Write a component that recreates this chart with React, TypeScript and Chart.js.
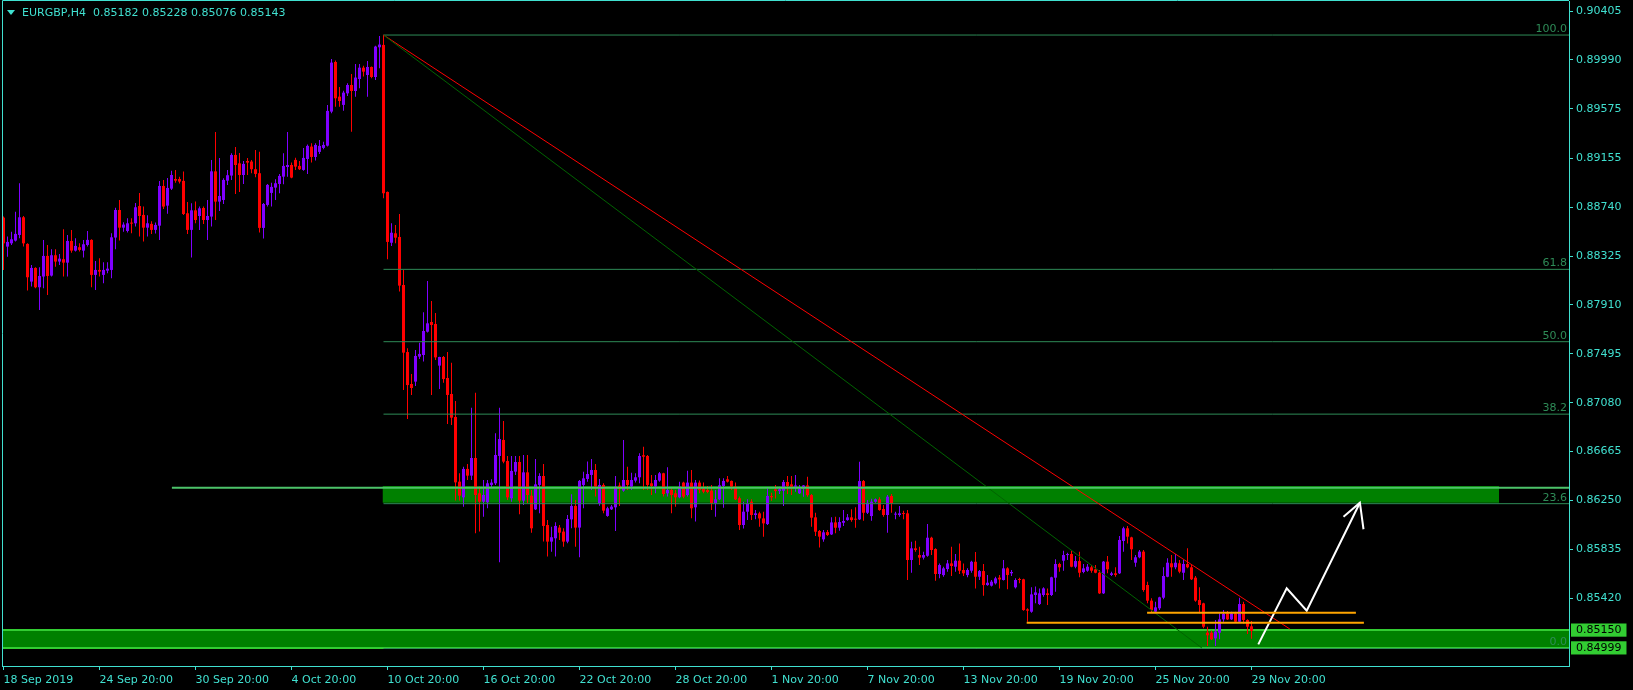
import React, { useEffect, useRef } from 'react';
import Chart from 'chart.js/auto';

// ---- Data (prices in points, 1 point = 0.00001) ----
const SYMBOL = 'EURGBP,H4';

const OPEN = [
88651,88405,88433,88456,88504,88654,88428,88108,88224,88060,
88151,88326,88159,88332,88278,88298,88269,88453,88371,88400,
88371,88419,88462,88165,88207,88165,88201,88207,88482,88716,
88566,88538,88609,88603,88750,88674,88566,88598,88547,88583,
88920,88753,88897,88979,88979,88963,88688,88547,88713,88665,
88733,88631,88660,89044,88787,88801,88965,89008,89183,89112,
89013,89132,89127,89062,89028,88564,88759,88861,88906,88937,
88999,89081,89098,89141,89090,89056,89149,89254,89166,89209,
89243,89262,89551,89972,89678,89608,89706,89777,89726,89828,
89924,89862,89930,89845,90097,90117,88869,88438,88518,88487,
88079,87510,87239,87259,87471,87485,87683,87765,87748,87395,
87468,87290,87154,86959,86410,86277,86518,86461,86611,86311,
86240,86235,86382,86396,86628,86764,86585,86269,86495,86577,
86249,86489,86291,86175,86382,86458,86042,85901,85929,86020,
85986,85901,86090,86204,86020,86382,86433,86467,86509,86226,
86382,86119,86175,86192,86376,86334,86424,86368,86419,86447,
86634,86628,86396,86368,86419,86481,86311,86339,86311,86277,
86402,86297,86402,86192,86402,86353,86339,86334,86226,86260,
86373,86430,86416,86368,86269,86042,86155,86240,86127,86141,
86098,86050,86288,86345,86330,86333,86407,86387,86367,86311,
86353,86378,86296,86107,85991,85920,85982,85962,86064,86019,
86061,86084,86107,86093,86090,86415,86146,86118,86240,86260,
86178,86127,86288,86130,86127,86141,86141,85745,85844,85787,
85765,85781,85934,85838,85626,85617,85668,85716,85688,85739,
85660,85617,85654,85730,85603,85651,85532,85527,85547,85595,
85575,85674,85632,85513,85581,85581,85326,85306,85448,85371,
85448,85462,85448,85595,85711,85739,85787,85796,85688,85736,
85643,85654,85683,85666,85637,85462,85731,85618,85632,85632,
85906,86014,85937,85722,85768,85816,85533,85400,85306,85335,
85425,85603,85717,85683,85717,85637,85711,85683,85595,85405,
85377,85128,85128,85080,85128,85241,85292,85241,85292,85221,
85371,85236,85182
];

const HIGH = [
88660,88490,88532,88702,88943,88665,88433,88250,88230,88230,
88462,88419,88383,88383,88343,88552,88504,88547,88476,88433,
88462,88538,88467,88284,88306,88272,88272,88518,88736,88801,
88612,88646,88646,88776,88861,88745,88671,88620,88609,88963,
88971,88988,89050,89056,88999,89042,88784,88773,88787,88745,
88745,88801,89141,89378,89158,88985,89056,89197,89251,89200,
89132,89158,89141,89226,89211,88776,88937,88948,88977,89022,
89197,89378,89118,89160,89132,89243,89271,89282,89282,89310,
89296,89608,89998,89984,89760,89729,89791,89871,89955,89955,
89941,89981,89933,90111,90193,90201,88872,88603,88588,88682,
88206,87542,87324,87528,87590,87847,88113,87943,87842,87471,
87477,87510,87420,87095,86481,86537,86560,87038,87165,86368,
86424,86424,86430,86820,87038,86925,86628,86628,86628,86628,
86636,86636,86339,86602,86481,86560,86085,86028,86065,86042,
86014,86127,86303,86254,86424,86495,86580,86602,86560,86433,
86396,86198,86212,86458,86402,86764,86537,86486,86481,86651,
86707,86636,86467,86467,86492,86486,86532,86353,86339,86410,
86410,86503,86509,86424,86419,86402,86373,86382,86339,86438,
86438,86458,86419,86402,86283,86240,86260,86260,86169,86155,
86155,86353,86316,86381,86367,86424,86458,86458,86466,86381,
86381,86452,86305,86146,85999,85999,85999,86107,86112,86107,
86169,86135,86175,86192,86579,86424,86254,86265,86268,86277,
86212,86296,86305,86155,86203,86163,86169,85900,85909,85858,
85815,86050,85943,85844,85716,85688,85745,85858,85796,85886,
85716,85674,85739,85813,85660,85711,85617,85575,85603,85617,
85745,85683,85660,85589,85595,85586,85335,85513,85519,85504,
85513,85504,85603,85751,85722,85824,85807,85824,85779,85816,
85711,85711,85702,85702,85660,85736,85779,85646,85683,85949,
86028,86034,85943,85787,85830,85830,85561,85420,85391,85434,
85683,85759,85787,85796,85745,85745,85844,85702,85609,85513,
85383,85179,85145,85236,85292,85320,85312,85306,85306,85425,
85391,85241,85228
];

const LOW = [
88207,88320,88419,88448,88476,88405,88032,88066,88052,87868,
88052,87995,88151,88235,88250,88151,88151,88354,88363,88363,
88312,88405,88060,88037,88151,88094,88179,88136,88383,88456,
88532,88524,88518,88575,88490,88448,88490,88513,88516,88462,
88725,88685,88886,88948,88940,88674,88513,88312,88603,88547,
88598,88462,88575,88631,88708,88767,88929,88971,88852,88869,
88937,89013,89028,88994,88524,88473,88745,88745,88801,88858,
88934,88999,88985,89056,89056,89050,89022,89118,89135,89192,
89231,89254,89537,89593,89593,89559,89684,89381,89678,89749,
89848,89678,89834,89820,89919,88815,88298,88410,88433,88023,
87188,86942,87146,87222,87451,87429,87677,87146,87443,87197,
87250,86899,86891,86249,86249,86198,86424,86424,85972,85986,
86113,86184,86353,86382,85725,86566,86254,86240,86467,86133,
86212,86226,85977,86170,86141,85901,85774,85816,85774,85915,
85858,85887,86014,85858,85768,86184,86410,86339,86283,86206,
86141,86113,86170,85991,86204,86325,86339,86339,86402,86396,
86339,86339,86297,86311,86410,86283,86283,86141,86198,86269,
86269,86283,86099,86071,86311,86311,86311,86170,86113,86254,
86189,86402,86339,86254,86000,86013,86084,86084,86090,86028,
85943,86042,86248,86268,86305,86203,86305,86296,86325,86305,
86282,86282,86028,85948,85852,85900,85948,85957,85971,85994,
86033,86079,86070,86019,86084,86079,86135,86079,86231,86163,
86112,85977,86146,86090,86112,86090,85575,85637,85815,85702,
85750,85773,85787,85569,85589,85603,85646,85609,85646,85626,
85609,85598,85637,85504,85575,85442,85527,85521,85538,85504,
85570,85496,85609,85504,85547,85315,85221,85298,85377,85363,
85434,85363,85440,85476,85646,85654,85745,85683,85674,85598,
85632,85646,85637,85632,85456,85456,85632,85609,85603,85626,
85816,85886,85745,85688,85759,85476,85377,85301,85300,85320,
85411,85598,85603,85666,85632,85575,85674,85575,85391,85292,
85165,85015,85066,85015,85072,85221,85236,85236,85213,85213,
85207,85117,85076
];

const CLOSE = [
88433,88445,88467,88513,88654,88433,88145,88224,88060,88156,
88326,88156,88332,88278,88303,88269,88453,88371,88411,88377,
88425,88462,88165,88207,88193,88207,88218,88484,88716,88566,
88592,88603,88600,88739,88665,88566,88603,88547,88589,88920,
88745,88903,89013,88965,88957,88682,88547,88713,88631,88730,
88631,88665,89044,88787,88835,88971,89011,89183,89098,89013,
89107,89118,89062,89022,88564,88767,88929,88912,88943,89005,
89090,89098,88991,89084,89062,89158,89260,89166,89268,89260,
89268,89557,89967,89664,89641,89712,89777,89726,89840,89924,
89890,89930,89845,90103,90120,88858,88445,88523,88481,88074,
87505,87230,87205,87477,87494,87689,87754,87740,87465,87468,
87281,87146,86953,86404,86291,86518,86461,86611,86297,86240,
86297,86396,86402,86636,86772,86580,86277,86501,86577,86249,
86489,86297,86014,86387,86458,86034,85901,85938,86034,85977,
85901,86093,86204,86020,86416,86438,86475,86509,86368,86382,
86164,86184,86198,86368,86353,86424,86382,86424,86447,86628,
86622,86382,86373,86424,86481,86305,86339,86297,86277,86368,
86283,86402,86184,86402,86339,86325,86322,86226,86260,86379,
86416,86410,86368,86260,86042,86155,86226,86127,86141,86098,
86056,86288,86277,86330,86345,86407,86373,86367,86378,86353,
86378,86296,86104,85985,85943,85980,85957,86064,86019,86067,
86076,86107,86084,86087,86415,86146,86231,86240,86260,86169,
86127,86282,86226,86135,86141,86135,85745,85844,85830,85765,
85787,85934,85830,85626,85702,85674,85716,85694,85739,85654,
85632,85660,85730,85603,85651,85532,85552,85561,85589,85580,
85674,85618,85643,85575,85575,85320,85315,85453,85470,85462,
85504,85448,85598,85711,85683,85787,85796,85688,85736,85637,
85674,85688,85654,85637,85462,85731,85666,85632,85618,85915,
86014,85943,85836,85768,85816,85490,85400,85320,85343,85428,
85609,85722,85683,85722,85646,85711,85683,85581,85400,85363,
85179,85106,85072,85137,85241,85287,85241,85292,85221,85371,
85236,85179,85143
];

const X_TICK_BARS = [0, 24, 48, 72, 96, 120, 144, 168, 192, 216, 240, 264, 288, 312];
const X_TICK_LABELS = [
  '18 Sep 2019', '24 Sep 20:00', '30 Sep 20:00', '4 Oct 20:00', '10 Oct 20:00',
  '16 Oct 20:00', '22 Oct 20:00', '28 Oct 20:00', '1 Nov 20:00', '7 Nov 20:00',
  '13 Nov 20:00', '19 Nov 20:00', '25 Nov 20:00', '29 Nov 20:00'
];
const Y_TICKS = [0.8542, 0.85835, 0.8625, 0.86665, 0.8708, 0.87495, 0.8791, 0.88325, 0.8874, 0.89155, 0.89575, 0.8999, 0.90405];
const Y_MARKS = [0.84999, 0.8515];

// Fibonacci retracement levels
const FIB_LABELS = ['100.0', '61.8', '50.0', '38.2', '23.6', '0.0'];
const FIB_VALUES = [0.90201, 0.88212, 0.87598, 0.86983, 0.86223, 0.84994];
const FIB_START_BAR = 95;

// drawn objects (bar index, price)
const RED_TREND = [[95, 0.90201], [321.6, 0.85159]];
const GREEN_TREND = [[95, 0.90201], [299.6, 0.84998]];
const ORANGE_UPPER = [[285.9, 0.85298], [338.1, 0.85298]];
const ORANGE_LOWER = [[255.8, 0.85213], [340.1, 0.85213]];
const H_LINE = [[42.1, 0.86359]];
const UPPER_ZONE = { from: 94.75, to: 373.9, top: 0.86373, bottom: 0.86231 };
const LOWER_ZONE = { top: 0.8515, bottom: 0.84999 };
const ARROW_PATH = [[313.7, 0.85029], [320.8, 0.85505], [325.8, 0.85315], [339.1, 0.86231]];
const ARROW_HEAD = [[335.0, 0.86113], [339.1, 0.86231], [340.0, 0.86006]];

// ---- styles ----
const AXIS = '#40E0D0';
const BULL = '#8000FF';
const BEAR = '#FF0000';
const FIB_COLOR = '#2E8B57';
const ZONE_FILL = '#008000';
const ZONE_EDGE = '#32CD32';
const FONT = { family: 'DejaVu Sans', size: 11 };

const X_MIN = -0.375;
const X_MAX = 391.375;
const Y_MIN = 0.848452;
const Y_MAX = 0.904899;

const p = (v: number) => v / 100000;
const pts = (arr: number[][]) => arr.map(([x, y]) => ({ x, y }));
const isMark = (v: number) => Y_MARKS.some((m) => Math.abs(m - v) < 1e-7);

function lineDs(data: any[], color: string, width: number, order: number, extra: any = {}) {
  return {
    type: 'line',
    data,
    borderColor: color,
    borderWidth: width,
    pointRadius: 0,
    pointHoverRadius: 0,
    tension: 0,
    fill: false,
    order,
    ...extra,
  };
}

const overlayPlugin = {
  id: 'overlay',
  afterDraw(chart: any) {
    const { ctx, chartArea, scales } = chart;
    const ys = scales.y;
    ctx.save();
    // frame (left / top)
    ctx.strokeStyle = AXIS;
    ctx.lineWidth = 1;
    ctx.beginPath();
    ctx.moveTo(chartArea.left + 0.5, chartArea.bottom);
    ctx.lineTo(chartArea.left + 0.5, 0.5);
    ctx.lineTo(chartArea.right, 0.5);
    ctx.stroke();

    // fib labels
    ctx.font = '11px "DejaVu Sans"';
    ctx.textAlign = 'right';
    ctx.textBaseline = 'alphabetic';
    FIB_VALUES.forEach((v, i) => {
      const y = ys.getPixelForValue(v);
      ctx.fillStyle = FIB_COLOR;
      ctx.fillText(FIB_LABELS[i], chartArea.right - 2, y - 3);
    });

    // header
    const last = CLOSE.length - 1;
    const header = `${SYMBOL}  ${(p(OPEN[last])).toFixed(5)} ${(p(HIGH[last])).toFixed(5)} ${(p(LOW[last])).toFixed(5)} ${(p(CLOSE[last])).toFixed(5)}`;
    ctx.fillStyle = AXIS;
    ctx.beginPath();
    ctx.moveTo(7, 10);
    ctx.lineTo(15, 10);
    ctx.lineTo(11, 15);
    ctx.closePath();
    ctx.fill();
    ctx.font = '11px "DejaVu Sans"';
    ctx.textAlign = 'left';
    ctx.textBaseline = 'middle';
    ctx.fillText(header, 22, 13);
    ctx.restore();
  },
};

export default function App() {
  const ref = useRef<HTMLCanvasElement>(null);

  useEffect(() => {
    document.body.style.margin = '0';
    document.body.style.background = '#000';
    const n = CLOSE.length;
    const idx = Array.from({ length: n }, (_, i) => i);
    const colors = idx.map((i) => (CLOSE[i] >= OPEN[i] ? BULL : BEAR));
    const wicks = idx.map((i) => ({ x: i, y: [p(LOW[i]), p(HIGH[i])] }));
    const bodies = idx.map((i) => ({ x: i, y: [p(OPEN[i]), p(CLOSE[i])] }));

    const datasets: any[] = [
      // lower zone
      lineDs(pts([[X_MIN, LOWER_ZONE.top], [X_MAX, LOWER_ZONE.top]]), ZONE_EDGE, 2, 20),
      lineDs(pts([[X_MIN, LOWER_ZONE.bottom], [X_MAX, LOWER_ZONE.bottom]]), ZONE_EDGE, 2, 20, {
        fill: '-1',
        backgroundColor: ZONE_FILL,
      }),
      // upper zone
      lineDs(pts([[UPPER_ZONE.from, UPPER_ZONE.top], [UPPER_ZONE.to, UPPER_ZONE.top]]), 'rgba(0,0,0,0)', 1, 21),
      lineDs(pts([[UPPER_ZONE.from, UPPER_ZONE.bottom], [UPPER_ZONE.to, UPPER_ZONE.bottom]]), 'rgba(0,0,0,0)', 1, 21, {
        fill: '-1',
        backgroundColor: ZONE_FILL,
      }),
      // candles
      {
        type: 'bar',
        data: wicks,
        backgroundColor: colors,
        borderWidth: 0,
        barThickness: 1,
        grouped: false,
        inflateAmount: 0,
        order: 6,
      },
      {
        type: 'bar',
        data: bodies,
        backgroundColor: colors,
        borderWidth: 0,
        barThickness: 3,
        grouped: false,
        inflateAmount: 0,
        minBarLength: 1,
        order: 5,
      },
    ];

    FIB_VALUES.forEach((v) => {
      datasets.push(lineDs(pts([[FIB_START_BAR, v], [X_MAX, v]]), FIB_COLOR, 1, 3));
    });
    datasets.push(lineDs(pts([[H_LINE[0][0], H_LINE[0][1]], [X_MAX, H_LINE[0][1]]]), '#4CC36A', 2, 2));
    datasets.push(lineDs(pts(GREEN_TREND), '#006400', 1, 2));
    datasets.push(lineDs(pts(RED_TREND), '#FF0000', 1, 2));
    datasets.push(lineDs(pts(ORANGE_UPPER), '#FFA500', 2, 1));
    datasets.push(lineDs(pts(ORANGE_LOWER), '#FFA500', 2, 1));
    datasets.push(lineDs(pts(ARROW_PATH), '#FFFFFF', 2, 1));
    datasets.push(lineDs(pts(ARROW_HEAD), '#FFFFFF', 2, 1));

    const chart = new Chart(ref.current as HTMLCanvasElement, {
      type: 'bar',
      data: { datasets },
      options: {
        responsive: false,
        animation: false,
        devicePixelRatio: 1,
        events: [],
        layout: { padding: { left: 2, top: 1, right: 0, bottom: 0 } },
        plugins: { legend: { display: false }, tooltip: { enabled: false }, title: { display: false } },
        scales: {
          x: {
            type: 'linear',
            min: X_MIN,
            max: X_MAX,
            offset: false,
            afterBuildTicks: (s: any) => {
              s.ticks = X_TICK_BARS.map((v) => ({ value: v }));
            },
            afterFit: (s: any) => {
              s.height = 24;
              s.paddingLeft = 0;
              s.paddingRight = 0;
              s.paddingTop = 0;
              s.paddingBottom = 0;
            },
            grid: { drawOnChartArea: false, drawTicks: true, tickLength: 4, tickColor: AXIS, offset: false },
            border: { display: true, color: AXIS, width: 1 },
            ticks: {
              color: AXIS,
              font: FONT,
              padding: 4,
              align: 'start',
              maxRotation: 0,
              minRotation: 0,
              autoSkip: false,
              callback: (_v: any, i: number) => X_TICK_LABELS[i],
            },
          },
          y: {
            type: 'linear',
            position: 'right',
            min: Y_MIN,
            max: Y_MAX,
            beginAtZero: false,
            afterBuildTicks: (s: any) => {
              s.ticks = [...Y_MARKS, ...Y_TICKS].map((v) => ({ value: v }));
            },
            afterFit: (s: any) => {
              s.width = 64;
              s.paddingTop = 0;
              s.paddingBottom = 0;
              s.paddingLeft = 0;
              s.paddingRight = 0;
            },
            grid: {
              drawOnChartArea: false,
              drawTicks: true,
              tickLength: 4,
              tickColor: (c: any) => (c.tick && isMark(c.tick.value) ? 'rgba(0,0,0,0)' : AXIS),
            },
            border: { display: true, color: AXIS, width: 1 },
            ticks: {
              font: FONT,
              padding: 3,
              autoSkip: false,
              color: (c: any) => (c.tick && isMark(c.tick.value) ? '#000000' : AXIS),
              showLabelBackdrop: (c: any) => !!(c.tick && isMark(c.tick.value)),
              backdropColor: (c: any) => (c.tick && isMark(c.tick.value) ? ZONE_EDGE : 'rgba(0,0,0,0)'),
              backdropPadding: { left: 5, right: 5, top: 0, bottom: 0 },
              callback: (v: any) => Number(v).toFixed(5),
            },
          },
        },
      } as any,
      plugins: [overlayPlugin],
    } as any);

    return () => chart.destroy();
  }, []);

  return (
    <canvas
      ref={ref}
      width={1633}
      height={690}
      style={{ display: 'block', width: 1633, height: 690, background: '#000' }}
    />
  );
}
